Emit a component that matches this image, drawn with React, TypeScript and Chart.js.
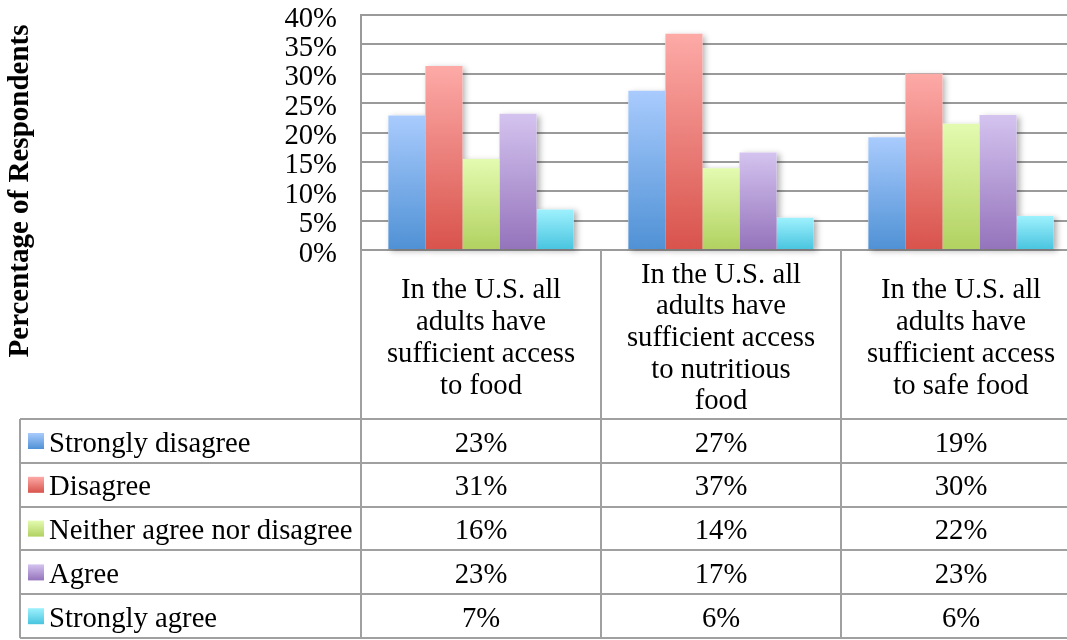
import React, { useEffect, useRef } from 'react';
import { Chart, registerables } from 'chart.js';

Chart.register(...registerables);

// ---------- data ----------
const categoryLines: string[][] = [
  ['In the U.S. all', 'adults have', 'sufficient access', 'to food'],
  ['In the U.S. all', 'adults have', 'sufficient access', 'to nutritious', 'food'],
  ['In the U.S. all', 'adults have', 'sufficient access', 'to safe food'],
];
const categories = categoryLines.map((l) => l.join(' '));

const seriesNames = [
  'Strongly disagree',
  'Disagree',
  'Neither agree nor disagree',
  'Agree',
  'Strongly agree',
];
const stronglyDisagree = [22.9, 27.1, 19.2];
const disagree = [31.3, 36.8, 30.0];
const neither = [15.5, 13.9, 21.5];
const agree = [23.2, 16.6, 23.0];
const stronglyAgree = [6.9, 5.5, 5.8];
const seriesValues = [stronglyDisagree, disagree, neither, agree, stronglyAgree];

const topColors = ['#a9cbfd', '#fdaaa7', '#e3fbb0', '#d4c3ef', '#9ef1fd'];
const bottomColors = ['#4f91d5', '#d8534c', '#b1d160', '#9473bb', '#48c4df'];

const yTitle = 'Percentage of Respondents';
const yMin = 0;
const yMax = 40;
const yStep = 5;

const FONT = "'Liberation Serif', 'Times New Roman', serif";
const FS = 28.7;
const LINE = '#a0a0a0';

const decor = {
  id: 'decor',
  beforeDatasetsDraw(chart: any) {
    const ctx = chart.ctx;
    ctx.save();
    ctx.shadowColor = 'rgba(0,0,0,0.3)';
    ctx.shadowBlur = 6;
    ctx.shadowOffsetX = 3;
    ctx.shadowOffsetY = 2;
    ctx.fillStyle = '#ffffff';
    chart.data.datasets.forEach((_: any, i: number) => {
      chart.getDatasetMeta(i).data.forEach((bar: any) => {
        const p = bar.getProps(['x', 'y', 'base', 'width'], true);
        ctx.fillRect(p.x - p.width / 2, p.y, p.width, p.base - p.y);
      });
    });
    ctx.restore();
  },
  afterDraw(chart: any) {
    const ctx = chart.ctx;
    const area = chart.chartArea;
    const xs = chart.scales.x;
    const n = categories.length;
    const catW = (area.right - area.left) / n;
    const tableTop = area.bottom + 169;
    const rowH = 43.8;
    const rows = seriesNames.length;
    const tableBottom = tableTop + rows * rowH;
    const tableLeft = 20;

    ctx.save();
    ctx.strokeStyle = LINE;
    ctx.lineWidth = 2;
    for (let r = 0; r <= rows; r++) {
      const y = Math.round(tableTop + r * rowH);
      ctx.beginPath();
      ctx.moveTo(tableLeft, y);
      ctx.lineTo(area.right, y);
      ctx.stroke();
    }
    ctx.beginPath();
    ctx.moveTo(tableLeft, tableTop);
    ctx.lineTo(tableLeft, tableBottom);
    ctx.stroke();
    for (let i = 0; i <= n; i++) {
      const x = Math.round(area.left + i * catW);
      ctx.beginPath();
      ctx.moveTo(x, area.bottom);
      ctx.lineTo(x, tableBottom);
      ctx.stroke();
    }

    ctx.fillStyle = '#000';
    ctx.font = `${FS}px ${FONT}`;
    ctx.textBaseline = 'alphabetic';
    const lh = 31.7;
    const labelMid = area.bottom + 96;
    categoryLines.forEach((lines, i) => {
      const cx = xs.getPixelForValue(i);
      const first = labelMid - ((lines.length - 1) / 2) * lh;
      ctx.textAlign = 'center';
      lines.forEach((t, k) => ctx.fillText(t, cx, first + k * lh));
    });

    seriesNames.forEach((name, r) => {
      const top = tableTop + r * rowH;
      const g = ctx.createLinearGradient(0, top + 14, 0, top + 30);
      g.addColorStop(0, topColors[r]);
      g.addColorStop(1, bottomColors[r]);
      ctx.fillStyle = g;
      ctx.fillRect(28, top + 14, 16, 16);
      ctx.fillStyle = '#000';
      ctx.textAlign = 'left';
      ctx.fillText(name, 49, top + 32.5);
      ctx.textAlign = 'center';
      seriesValues[r].forEach((v, i) => {
        ctx.fillText(`${Math.round(v)}%`, xs.getPixelForValue(i), top + 32.5);
      });
    });

    ctx.save();
    ctx.translate(28, 191);
    ctx.rotate(-Math.PI / 2);
    ctx.font = `bold 29px ${FONT}`;
    ctx.textAlign = 'center';
    ctx.textBaseline = 'alphabetic';
    ctx.fillText(yTitle, 0, 0);
    ctx.restore();

    ctx.restore();
  },
};

export default function App() {
  const ref = useRef<HTMLCanvasElement>(null);

  useEffect(() => {
    if (!ref.current) return;
    const chart = new Chart(ref.current, {
      type: 'bar',
      data: {
        labels: categories,
        datasets: seriesNames.map((name, s) => ({
          label: name,
          data: seriesValues[s],
          borderWidth: 0,
          barPercentage: 1,
          categoryPercentage: 0.772,
          backgroundColor: (c: any) => {
            const chart = c.chart;
            const y = chart.scales?.y;
            if (!y || c.type !== 'data' || c.raw == null) return bottomColors[s];
            const top = y.getPixelForValue(c.raw);
            const base = y.getPixelForValue(0);
            if (!isFinite(top) || !isFinite(base) || top === base) return bottomColors[s];
            const g = chart.ctx.createLinearGradient(0, top, 0, base);
            g.addColorStop(0, topColors[s]);
            g.addColorStop(1, bottomColors[s]);
            return g;
          },
        })),
      },
      options: {
        responsive: false,
        maintainAspectRatio: false,
        devicePixelRatio: 1,
        animation: false,
        layout: { padding: { left: 0, top: 15, right: 1, bottom: 390 } },
        plugins: {
          legend: { display: false },
          tooltip: { enabled: false },
        },
        scales: {
          x: { display: false },
          y: {
            min: yMin,
            max: yMax,
            ticks: {
              stepSize: yStep,
              autoSkip: false,
              color: '#000',
              font: { family: FONT, size: FS },
              padding: 24,
              labelOffset: 4,
              callback: (v: any) => `${v}%`,
            },
            grid: { color: '#9a9a9a', lineWidth: 2, drawTicks: false },
            border: { display: true, color: '#9a9a9a', width: 2 },
            afterFit: (scale: any) => {
              scale.width = 361;
              scale.paddingTop = 0;
              scale.paddingBottom = 0;
            },
          },
        },
      },
      plugins: [decor],
    });
    return () => chart.destroy();
  }, []);

  return (
    <div
      style={{
        position: 'fixed',
        left: 0,
        top: 0,
        width: 1067,
        height: 640,
        overflow: 'hidden',
        background: '#fff',
      }}
    >
      <canvas ref={ref} width={1082} height={640} style={{ display: 'block' }} />
    </div>
  );
}
